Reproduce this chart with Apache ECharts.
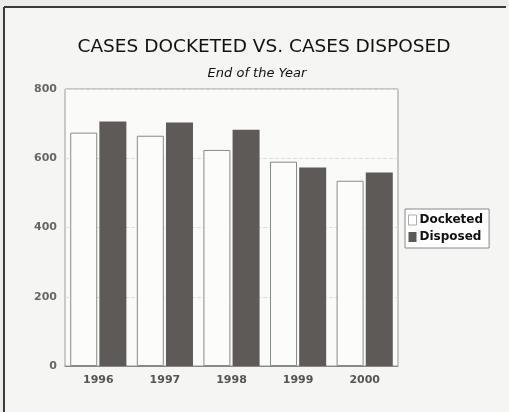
<!DOCTYPE html>
<html>
<head>
<meta charset="utf-8">
<script src="https://cdn.jsdelivr.net/npm/echarts@6/dist/echarts.min.js"></script>
<style>
html,body{margin:0;padding:0;background:#ececea;overflow:hidden;}
#c{width:509px;height:412px;}
</style>
</head>
<body>
<div id="c"></div>
<script>
var categories = ['1996', '1997', '1998', '1999', '2000'];
var docketed = [674, 665, 624, 590, 535];
var disposed = [706, 703, 682, 573, 559];
var yTicks = [0, 200, 400, 600, 800];

var chart = echarts.init(document.getElementById('c'), null, {renderer: 'canvas'});
chart.setOption({
  animation: false,
  backgroundColor: '#ececea',
  graphic: [
    {type: 'rect', shape: {x: 4, y: 7, width: 505, height: 405}, style: {fill: '#f5f5f3'}, z: -10},
    {type: 'line', shape: {x1: 4, y1: 7, x2: 506, y2: 7}, style: {stroke: '#3a3a3a', lineWidth: 2}, z: -5},
    {type: 'line', shape: {x1: 4, y1: 7, x2: 4, y2: 412}, style: {stroke: '#3a3a3a', lineWidth: 2}, z: -5}
  ],
  title: [
    {text: 'CASES DOCKETED VS. CASES DISPOSED', left: 259, top: 33, textAlign: 'center',
     textStyle: {fontFamily: 'DejaVu Sans', fontSize: 18.5, fontWeight: 'normal', color: '#111'}},
    {text: 'End of the Year', left: 252, top: 62, textAlign: 'center',
     textStyle: {fontFamily: 'DejaVu Sans', fontSize: 13, fontStyle: 'italic', fontWeight: 'normal', color: '#111'}}
  ],
  legend: {
    orient: 'vertical', left: 405, top: 209, itemWidth: 8, itemHeight: 10, itemGap: 5, icon: 'rect',
    padding: [5, 6, 5, 3], borderColor: '#888', borderWidth: 1, backgroundColor: '#fff',
    textStyle: {fontFamily: 'DejaVu Sans', fontSize: 12, fontWeight: 'bold', color: '#111', padding: [0, 0, 0, -2]},
    data: [
      {name: 'Docketed', itemStyle: {color: '#fff', borderColor: '#aaa', borderWidth: 1}},
      {name: 'Disposed'}
    ]
  },
  grid: {left: 65, right: 111, top: 89, bottom: 46, show: true, borderColor: '#999', borderWidth: 1, backgroundColor: '#fafaf9'},
  xAxis: {
    type: 'category', data: categories,
    axisLine: {show: true, lineStyle: {color: '#888'}},
    axisTick: {show: false},
    axisLabel: {margin: 9, fontFamily: 'DejaVu Sans', fontSize: 11, fontWeight: 'bold', color: '#555'}
  },
  yAxis: {
    type: 'value', min: 0, max: 800, interval: 200,
    axisLine: {show: false}, axisTick: {show: false},
    axisLabel: {margin: 8, fontFamily: 'DejaVu Sans', fontSize: 11, fontWeight: 'bold', color: '#666',
      formatter: function (v) { return yTicks.indexOf(v) >= 0 ? String(v) : ''; }},
    splitLine: {show: true, lineStyle: {color: '#ddd', type: 'dashed'}}
  },
  series: [
    {name: 'Docketed', type: 'bar', data: docketed, barWidth: 27, barGap: '8%',
     itemStyle: {color: '#fcfcfb', borderColor: '#8a8a8a', borderWidth: 1}},
    {name: 'Disposed', type: 'bar', data: disposed, barWidth: 27,
     itemStyle: {color: '#5e5a58'}}
  ]
});
</script>
</body>
</html>
